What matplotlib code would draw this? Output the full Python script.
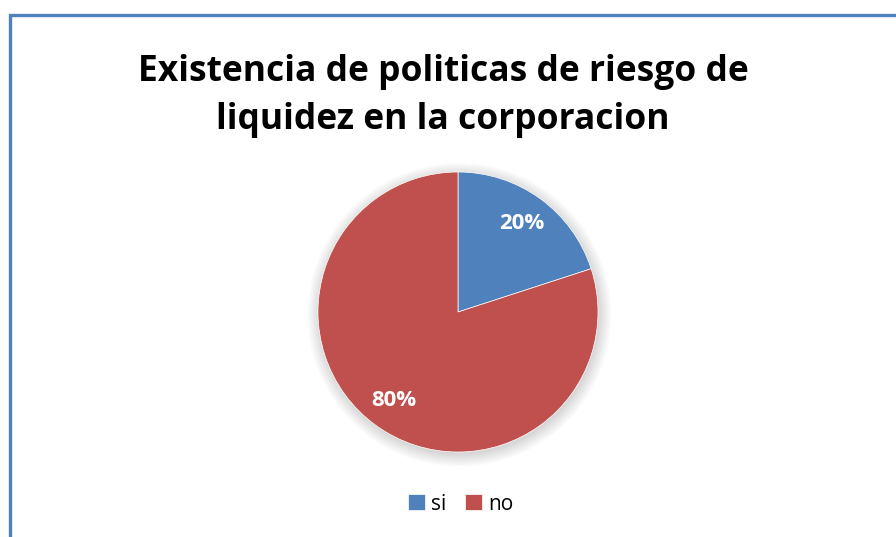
import numpy as np
import matplotlib
matplotlib.use('Agg')
import matplotlib.pyplot as plt
from matplotlib.patches import Rectangle, Circle

labels = ['si', 'no']
values = [20, 80]
colors = ['#4F81BD', '#C0504D']
title = 'Existencia de politicas de riesgo de\nliquidez en la corporacion'

W, H = 896, 537
fig = plt.figure(figsize=(W / 100, H / 100), dpi=100)
fig.patch.set_facecolor('white')

# blue frame (chart area border, cut off at right/bottom)
fig.patches.append(Rectangle((9.5 / W, -0.1), 1.2, 1.1 - 14.5 / H,
                             transform=fig.transFigure, fill=False,
                             edgecolor='#4F81BD', linewidth=2.4))

fig.text(443 / W, 1 - 96 / H, title, ha='center', va='center',
         fontsize=25.5, fontweight='bold', family='Open Sans',
         linespacing=1.45)

cx, cy, r = 458, 312, 140
ax = fig.add_axes([(cx - r * 1.1) / W, (H - cy - r * 1.1) / H, 2.2 * r / W, 2.2 * r / H])

# soft shadow
for i in range(8):
    ax.add_patch(Circle((0.01, -0.02), 1.0 + 0.012 * i, color='black',
                        alpha=0.018, zorder=0, lw=0))

wedges, texts, autotexts = ax.pie(values, colors=colors, startangle=90,
                                  counterclock=False, autopct='%1.0f%%',
                                  pctdistance=0.78, radius=1,
                                  wedgeprops=dict(linewidth=0.5, edgecolor='white'),
                                  textprops=dict(color='white', fontsize=16,
                                                 fontweight='bold', family='Open Sans'))
ax.set_xlim(-1.1, 1.1)
ax.set_ylim(-1.1, 1.1)
ax.set_aspect('equal')
ax.axis('off')

leg = fig.legend(wedges, labels, loc='center', bbox_to_anchor=(461 / W, 1 - 504 / H),
                 ncol=2, frameon=False, handlelength=0.8,
                 handleheight=0.8, handletextpad=0.3, columnspacing=0.9,
                 prop=dict(family='Open Sans', size=15))

plt.savefig('out.png', dpi=100)
